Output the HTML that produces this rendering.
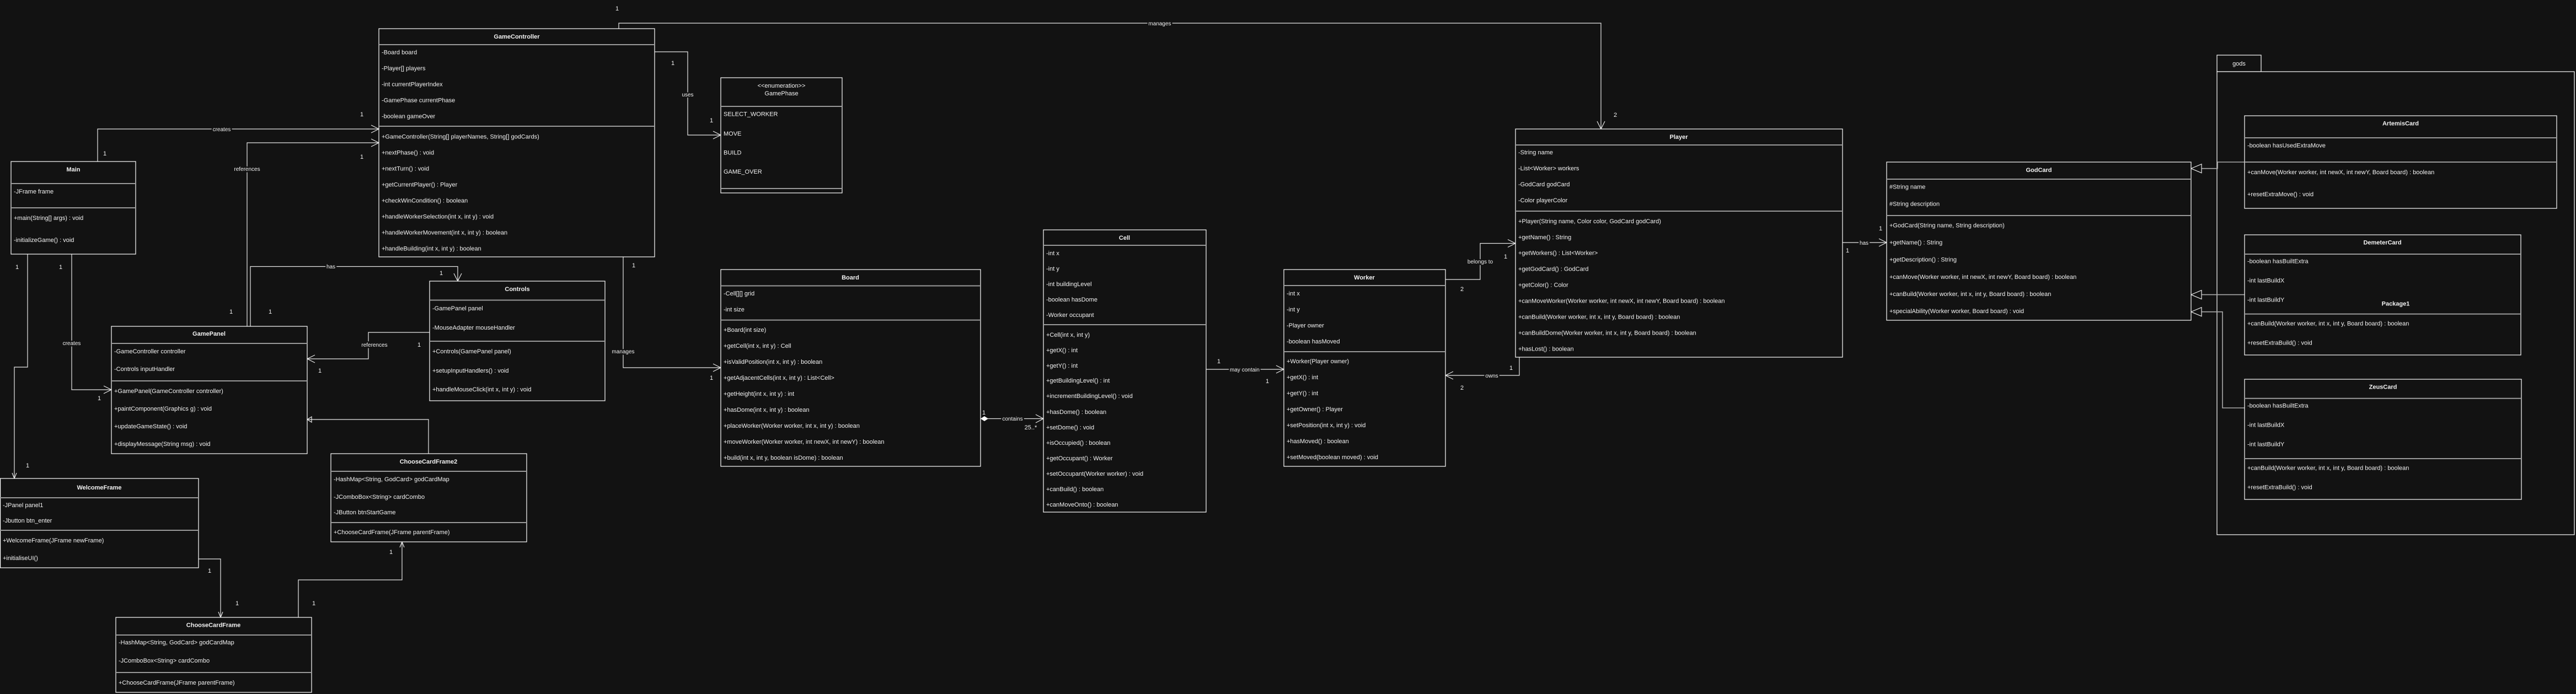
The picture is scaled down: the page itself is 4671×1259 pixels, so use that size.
<!DOCTYPE html>
<html><head><meta charset="utf-8"><style>
html,body{margin:0;padding:0;background:#121212;}
svg{display:block;}
text{font-family:"Liberation Sans",Arial,sans-serif;fill:#f2f2f2;font-size:11px;}
.t{font-weight:bold;text-anchor:middle;}
.l{font-size:10px;text-anchor:middle;paint-order:stroke;stroke:#121212;stroke-width:5px;}
.m{font-size:11px;}
.b{fill:#121212;stroke:#fff;stroke-width:1.2;}
.s{stroke:#9a9a9a;stroke-width:2;}
.c{fill:none;stroke:#e8e8e8;stroke-width:1.2;}
.g{fill:none;stroke:#aaa;stroke-width:1.6;}
</style></head><body>
<svg width="4671" height="1259" viewBox="0 0 4671 1259" xmlns="http://www.w3.org/2000/svg">
<rect width="4671" height="1259" fill="#121212"/>

<!-- package gods -->
<rect x="4020" y="100" width="80" height="30" class="b"/>
<rect x="4020" y="130" width="648" height="840" class="b"/>
<text x="4060" y="119" text-anchor="middle">gods</text>

<!-- connectors -->
<path class="c" d="M177 293V234H687"/><path class="c" d="M673 227L687 234L673 241"/>
<path class="c" d="M448 592V259H687"/><path class="c" d="M673 252L687 259L673 266"/>
<path class="c" d="M454 592V483.5H830V510"/><path class="c" d="M823 496L830 510L837 496"/>
<path class="c" d="M50 461V666H26V868"/><path class="c" d="M22 858L26 868L30 858"/>
<path class="c" d="M130 461V707H202"/><path class="c" d="M188 700L202 707L188 714"/>
<path class="c" d="M779 603H668V651H557"/><path class="c" d="M571 644L557 651L571 658"/>
<path class="c" d="M777 823V761H557"/><path class="c" d="M565 756L557 761L565 766Z" fill="#fff"/>
<path class="c" d="M360 1014H400V1120"/><path class="c" d="M396 1110L400 1120L404 1110"/>
<path class="c" d="M541 1120V1052H729V983"/><path class="c" d="M725 993L729 983L733 993"/>
<path class="c" d="M1122 52V42H2903V234"/><path class="c" d="M2896 220L2903 234L2910 220"/>
<path class="c" d="M1187 94H1247V245H1307"/><path class="c" d="M1293 238L1307 245L1293 252"/>
<path class="c" d="M1130 466V667H1307"/><path class="c" d="M1293 660L1307 667L1293 674"/>
<path class="c" d="M1778 759.5H1892"/><path class="c" d="M1878 752L1892 759.5L1878 767"/>
<path d="M1778 759.5L1785 755L1792 759.5L1785 764Z" fill="#fff"/>
<path class="c" d="M2187 670H2328"/><path class="c" d="M2314 663L2328 670L2314 677"/>
<path class="c" d="M2621 507H2684V441.5H2748"/><path class="c" d="M2734 434.5L2748 441.5L2734 448.5"/>
<path class="c" d="M2755 648V681H2621"/><path class="c" d="M2635 674L2621 681L2635 688"/>
<path class="c" d="M3341 440H3421"/><path class="c" d="M3407 433L3421 440L3407 447"/>
<path class="g" d="M4070 294H4021V305.7H3992"/><path class="c" d="M3992 297.7L3973 305.7L3992 313.7Z"/>
<path class="g" d="M4070 534.6H3992"/><path class="c" d="M3992 526.6L3973 534.6L3992 542.6Z"/>
<path class="g" d="M4070 740H4030V565.7H3992"/><path class="c" d="M3992 557.7L3973 565.7L3992 573.7Z"/>

<!-- connector labels -->
<text class="l" x="402" y="238">creates</text>
<text class="l" x="448" y="310">references</text>
<text class="l" x="600" y="487">has</text>
<text class="l" x="130" y="626">creates</text>
<text class="l" x="679" y="629">references</text>
<text class="l" x="2103" y="46">manages</text>
<text class="l" x="1247" y="175">uses</text>
<text class="l" x="1130" y="641">manages</text>
<text class="l" x="1836" y="763">contains</text>
<text class="l" x="2257" y="674">may contain</text>
<text class="l" x="2684" y="478">belongs to</text>
<text class="l" x="2705" y="685">owns</text>
<text class="l" x="3380" y="444">has</text>
<!-- multiplicities -->
<g class="m" text-anchor="middle">
<text x="190" y="282">1</text><text x="656" y="211">1</text><text x="656" y="288">1</text>
<text x="419" y="569">1</text><text x="490" y="569">1</text><text x="800" y="499">1</text>
<text x="31" y="488">1</text><text x="110" y="488">1</text><text x="50" y="848">1</text><text x="180" y="726">1</text>
<text x="760" y="629">1</text><text x="580" y="676">1</text>
<text x="380" y="1039">1</text><text x="430" y="1098">1</text><text x="569" y="1098">1</text><text x="709" y="1005">1</text>
<text x="1119" y="19">1</text><text x="2929" y="212">2</text>
<text x="1220" y="118">1</text><text x="1290" y="222">1</text>
<text x="1149" y="485">1</text><text x="1290" y="689">1</text>
<text x="1784" y="752">1</text><text x="1869" y="779">25..*</text>
<text x="2210" y="659">1</text><text x="2298" y="695">1</text>
<text x="2730" y="469">1</text><text x="2651" y="528">2</text>
<text x="2740" y="671">1</text><text x="2651" y="707">2</text>
<text x="3350" y="458">1</text><text x="3410" y="418">1</text>
</g>

<!-- Main -->
<rect x="20" y="293" width="226" height="168" class="b"/>
<line x1="20" y1="333" x2="246" y2="333" class="s" stroke="#fff"/><line x1="20" y1="377" x2="246" y2="377" class="s" stroke="#fff"/>
<text class="t" x="133" y="311">Main</text>
<text x="25" y="351">-JFrame frame</text>
<text x="25" y="399">+main(String[] args) : void</text>
<text x="25" y="439">-initializeGame() : void</text>

<!-- GameController -->
<rect x="687" y="52" width="500" height="414" class="b"/>
<line x1="687" y1="81" x2="1187" y2="81" class="s"/><line x1="687" y1="229" x2="1187" y2="229" class="s"/>
<text class="t" x="937" y="70">GameController</text>
<text x="692" y="98.5">-Board board</text>
<text x="692" y="127.5">-Player[] players</text>
<text x="692" y="156.5">-int currentPlayerIndex</text>
<text x="692" y="185.5">-GamePhase currentPhase</text>
<text x="692" y="214.5">-boolean gameOver</text>
<text x="692" y="251.5">+GameController(String[] playerNames, String[] godCards)</text>
<text x="692" y="280.5">+nextPhase() : void</text>
<text x="692" y="309.5">+nextTurn() : void</text>
<text x="692" y="338.5">+getCurrentPlayer() : Player</text>
<text x="692" y="367.5">+checkWinCondition() : boolean</text>
<text x="692" y="396.5">+handleWorkerSelection(int x, int y) : void</text>
<text x="692" y="425.5">+handleWorkerMovement(int x, int y) : boolean</text>
<text x="692" y="454.5">+handleBuilding(int x, int y) : boolean</text>

<!-- GamePhase -->
<rect x="1307" y="141" width="220" height="209" class="b"/>
<line x1="1307" y1="193" x2="1527" y2="193" class="s"/><line x1="1307" y1="342" x2="1527" y2="342" class="s"/>
<text x="1417" y="159" text-anchor="middle">&lt;&lt;enumeration&gt;&gt;</text>
<text class="t" x="1417" y="173" style="font-weight:normal">GamePhase</text>
<text x="1312" y="210.5">SELECT_WORKER</text>
<text x="1312" y="246">MOVE</text>
<text x="1312" y="280.5">BUILD</text>
<text x="1312" y="315">GAME_OVER</text>

<!-- Controls -->
<rect x="779" y="510" width="318" height="217" class="b"/>
<line x1="779" y1="544.5" x2="1097" y2="544.5" class="s"/><line x1="779" y1="619" x2="1097" y2="619" class="s"/>
<text class="t" x="938" y="528">Controls</text>
<text x="784" y="563">-GamePanel panel</text>
<text x="784" y="598">-MouseAdapter mouseHandler</text>
<text x="784" y="641">+Controls(GamePanel panel)</text>
<text x="784" y="676">+setupInputHandlers() : void</text>
<text x="784" y="710">+handleMouseClick(int x, int y) : void</text>

<!-- GamePanel -->
<rect x="202" y="592" width="355" height="231" class="b"/>
<line x1="202" y1="623" x2="557" y2="623" class="s" stroke="#fff"/><line x1="202" y1="691" x2="557" y2="691" class="s" stroke="#fff"/>
<text class="t" x="379" y="609">GamePanel</text>
<text x="207" y="641">-GameController controller</text>
<text x="207" y="673">-Controls inputHandler</text>
<text x="207" y="713">+GamePanel(GameController controller)</text>
<text x="207" y="745">+paintComponent(Graphics g) : void</text>
<text x="207" y="777">+updateGameState() : void</text>
<text x="207" y="809">+displayMessage(String msg) : void</text>

<!-- WelcomeFrame -->
<rect x="0.6" y="868" width="359.4" height="162" class="b"/>
<line x1="0" y1="903" x2="360" y2="903" class="s" stroke="#fff"/><line x1="0" y1="962" x2="360" y2="962" class="s" stroke="#fff"/>
<text class="t" x="180" y="888">WelcomeFrame</text>
<text x="5" y="920">-JPanel panel1</text>
<text x="5" y="948">-Jbutton btn_enter</text>
<text x="5" y="984">+WelcomeFrame(JFrame newFrame)</text>
<text x="5" y="1016">+initialiseUI()</text>

<!-- ChooseCardFrame2 -->
<rect x="600" y="823" width="355" height="160" class="b"/>
<line x1="600" y1="855" x2="955" y2="855" class="s" stroke="#fff"/><line x1="600" y1="948" x2="955" y2="948" class="s" stroke="#fff"/>
<text class="t" x="777" y="841">ChooseCardFrame2</text>
<text x="605" y="873">-HashMap&lt;String, GodCard&gt; godCardMap</text>
<text x="605" y="905">-JComboBox&lt;String&gt; cardCombo</text>
<text x="605" y="933">-JButton btnStartGame</text>
<text x="605" y="969">+ChooseCardFrame(JFrame parentFrame)</text>

<!-- ChooseCardFrame -->
<rect x="210" y="1120" width="355" height="136" class="b"/>
<line x1="210" y1="1152" x2="565" y2="1152" class="s" stroke="#fff"/><line x1="210" y1="1220" x2="565" y2="1220" class="s" stroke="#fff"/>
<text class="t" x="387" y="1137.5">ChooseCardFrame</text>
<text x="215" y="1169">-HashMap&lt;String, GodCard&gt; godCardMap</text>
<text x="215" y="1202">-JComboBox&lt;String&gt; cardCombo</text>
<text x="215" y="1242">+ChooseCardFrame(JFrame parentFrame)</text>

<!-- Board -->
<rect x="1307" y="489" width="471" height="357" class="b"/>
<line x1="1307" y1="518.5" x2="1778" y2="518.5" class="s"/><line x1="1307" y1="580.6" x2="1778" y2="580.6" class="s"/>
<text class="t" x="1542" y="507">Board</text>
<text x="1312" y="536">-Cell[][] grid</text>
<text x="1312" y="565">-int size</text>
<text x="1312" y="602">+Board(int size)</text>
<text x="1312" y="631">+getCell(int x, int y) : Cell</text>
<text x="1312" y="660">+isValidPosition(int x, int y) : boolean</text>
<text x="1312" y="689">+getAdjacentCells(int x, int y) : List&lt;Cell&gt;</text>
<text x="1312" y="718">+getHeight(int x, int y) : int</text>
<text x="1312" y="747">+hasDome(int x, int y) : boolean</text>
<text x="1312" y="776">+placeWorker(Worker worker, int x, int y) : boolean</text>
<text x="1312" y="805">+moveWorker(Worker worker, int newX, int newY) : boolean</text>
<text x="1312" y="834">+build(int x, int y, boolean isDome) : boolean</text>

<!-- Cell -->
<rect x="1892" y="417" width="295" height="512" class="b"/>
<line x1="1892" y1="445" x2="2187" y2="445" class="s"/><line x1="1892" y1="589" x2="2187" y2="589" class="s"/>
<text class="t" x="2039" y="435">Cell</text>
<text x="1897" y="463">-int x</text>
<text x="1897" y="491">-int y</text>
<text x="1897" y="519">-int buildingLevel</text>
<text x="1897" y="547">-boolean hasDome</text>
<text x="1897" y="575">-Worker occupant</text>
<text x="1897" y="611">+Cell(int x, int y)</text>
<text x="1897" y="639">+getX() : int</text>
<text x="1897" y="667">+getY() : int</text>
<text x="1897" y="694">+getBuildingLevel() : int</text>
<text x="1897" y="722">+incrementBuildingLevel() : void</text>
<text x="1897" y="751">+hasDome() : boolean</text>
<text x="1897" y="779">+setDome() : void</text>
<text x="1897" y="807">+isOccupied() : boolean</text>
<text x="1897" y="835">+getOccupant() : Worker</text>
<text x="1897" y="863">+setOccupant(Worker worker) : void</text>
<text x="1897" y="891">+canBuild() : boolean</text>
<text x="1897" y="919">+canMoveOnto() : boolean</text>

<!-- Worker -->
<rect x="2328" y="489" width="293" height="357" class="b"/>
<line x1="2328" y1="518" x2="2621" y2="518" class="s"/><line x1="2328" y1="638" x2="2621" y2="638" class="s"/>
<text class="t" x="2474" y="507">Worker</text>
<text x="2333" y="536">-int x</text>
<text x="2333" y="565">-int y</text>
<text x="2333" y="594">-Player owner</text>
<text x="2333" y="623">-boolean hasMoved</text>
<text x="2333" y="659">+Worker(Player owner)</text>
<text x="2333" y="688">+getX() : int</text>
<text x="2333" y="717">+getY() : int</text>
<text x="2333" y="746">+getOwner() : Player</text>
<text x="2333" y="775">+setPosition(int x, int y) : void</text>
<text x="2333" y="804">+hasMoved() : boolean</text>
<text x="2333" y="833">+setMoved(boolean moved) : void</text>

<!-- Player -->
<rect x="2748" y="234" width="593" height="414" class="b"/>
<line x1="2748" y1="263" x2="3341" y2="263" class="s"/><line x1="2748" y1="383" x2="3341" y2="383" class="s"/>
<text class="t" x="3044" y="252">Player</text>
<text x="2753" y="280">-String name</text>
<text x="2753" y="309">-List&lt;Worker&gt; workers</text>
<text x="2753" y="338">-GodCard godCard</text>
<text x="2753" y="367">-Color playerColor</text>
<text x="2753" y="405">+Player(String name, Color color, GodCard godCard)</text>
<text x="2753" y="434">+getName() : String</text>
<text x="2753" y="462.5">+getWorkers() : List&lt;Worker&gt;</text>
<text x="2753" y="491.5">+getGodCard() : GodCard</text>
<text x="2753" y="520.5">+getColor() : Color</text>
<text x="2753" y="549.5">+canMoveWorker(Worker worker, int newX, int newY, Board board) : boolean</text>
<text x="2753" y="578.5">+canBuild(Worker worker, int x, int y, Board board) : boolean</text>
<text x="2753" y="607.5">+canBuildDome(Worker worker, int x, int y, Board board) : boolean</text>
<text x="2753" y="636.5">+hasLost() : boolean</text>

<!-- GodCard -->
<rect x="3421" y="294" width="552" height="287" class="b"/>
<line x1="3421" y1="325" x2="3973" y2="325" class="s" stroke="#ddd"/><line x1="3421" y1="391" x2="3973" y2="391" class="s" stroke="#ddd"/>
<text class="t" x="3697" y="312">GodCard</text>
<text x="3426" y="342.6">#String name</text>
<text x="3426" y="373.6">#String description</text>
<text x="3426" y="412.6">+GodCard(String name, String description)</text>
<text x="3426" y="443.6">+getName() : String</text>
<text x="3426" y="474.7">+getDescription() : String</text>
<text x="3426" y="505.8">+canMove(Worker worker, int newX, int newY, Board board) : boolean</text>
<text x="3426" y="537">+canBuild(Worker worker, int x, int y, Board board) : boolean</text>
<text x="3426" y="568">+specialAbility(Worker worker, Board board) : void</text>

<!-- ArtemisCard -->
<rect x="4070" y="210" width="566" height="168" class="b"/>
<line x1="4070" y1="250" x2="4636" y2="250" class="s" stroke="#fff"/><line x1="4070" y1="294" x2="4636" y2="294" class="s" stroke="#fff"/>
<text class="t" x="4353" y="227.6">ArtemisCard</text>
<text x="4075" y="267.6">-boolean hasUsedExtraMove</text>
<text x="4075" y="316">+canMove(Worker worker, int newX, int newY, Board board) : boolean</text>
<text x="4075" y="356">+resetExtraMove() : void</text>

<!-- DemeterCard -->
<rect x="4070" y="426" width="501" height="218" class="b"/>
<line x1="4070" y1="461" x2="4571" y2="461" class="s"/><line x1="4070" y1="569.6" x2="4571" y2="569.6" class="s"/>
<text class="t" x="4320" y="443.6">DemeterCard</text>
<text x="4075" y="477.6">-boolean hasBuiltExtra</text>
<text x="4075" y="512.6">-int lastBuildX</text>
<text x="4075" y="547.6">-int lastBuildY</text>
<text class="t" x="4344" y="554.7">Package1</text>
<text x="4075" y="590.7">+canBuild(Worker worker, int x, int y, Board board) : boolean</text>
<text x="4075" y="625.7">+resetExtraBuild() : void</text>

<!-- ZeusCard -->
<rect x="4070" y="688" width="502" height="218" class="b"/>
<line x1="4070" y1="722.7" x2="4572" y2="722.7" class="s"/><line x1="4070" y1="832" x2="4572" y2="832" class="s"/>
<text class="t" x="4321" y="705.7">ZeusCard</text>
<text x="4075" y="739.7">-boolean hasBuiltExtra</text>
<text x="4075" y="774.7">-int lastBuildX</text>
<text x="4075" y="809.7">-int lastBuildY</text>
<text x="4075" y="852.7">+canBuild(Worker worker, int x, int y, Board board) : boolean</text>
<text x="4075" y="887.7">+resetExtraBuild() : void</text>
</svg>
</body></html>
